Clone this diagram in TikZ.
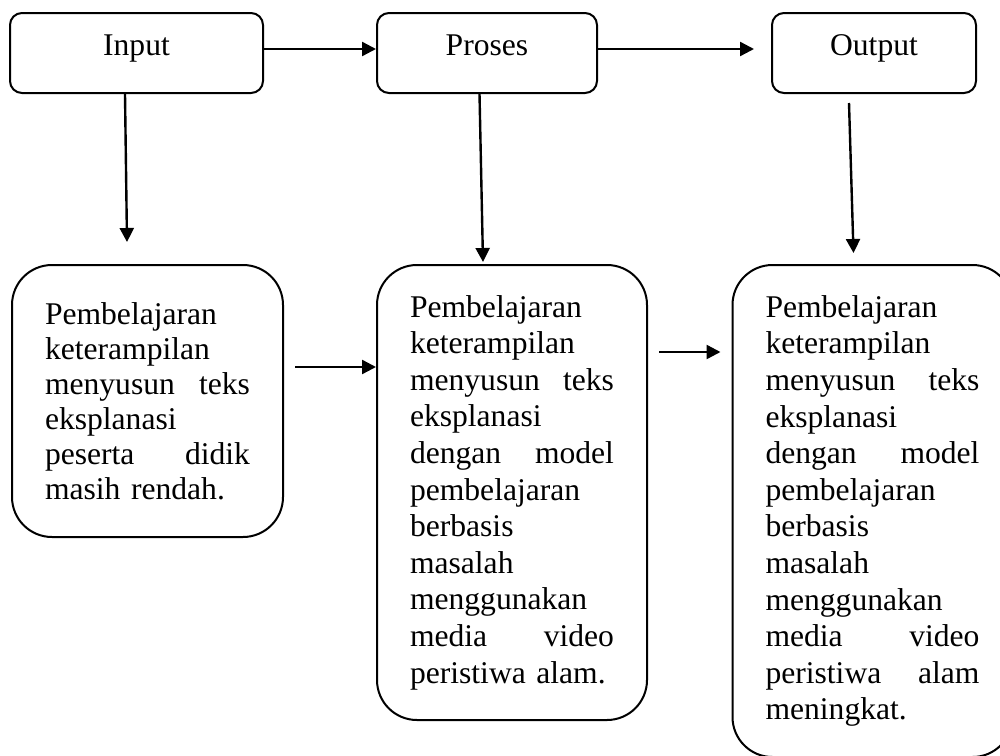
\documentclass[tikz,border=0pt]{standalone}
\usepackage{fontspec}
\setmainfont{Liberation Serif}
\usetikzlibrary{arrows.meta}
\newcommand\jgap{\hskip 0pt plus 1filll}

\begin{document}
\begin{tikzpicture}[x=0.5pt,y={(0,-0.5pt)},
  every node/.style={font=\fontsize{15.8pt}{18.3pt}\selectfont},
  head/.style ={rectangle,draw=black,line width=1pt,rounded corners=6pt,
                minimum height=40pt,text height=12pt,text depth=10pt,inner sep=0pt},
  descr/.style={rectangle,draw=black,line width=1pt,rounded corners=20pt,
                align=left,inner xsep=16.5pt,inner ysep=0pt},
  arr/.style  ={-{Triangle[length=7pt,width=7pt]},line width=1.2pt,black},
]
\useasboundingbox (0,0) rectangle (1000,755);

\node[head,minimum width=126.5pt] at (136.5,53) (inp)  {Input};
\node[head,minimum width=110pt]   at (487,53)   (pro)  {Proses};
\node[head,minimum width=102pt]   at (874,53)   (outp) {Output};

\node[descr,text width=102.5pt,minimum height=136pt,
      font=\fontsize{15.8pt}{17.5pt}\selectfont] at (147.5,401) (awal)
  {Pembelajaran\\ keterampilan\\ menyusun\jgap teks\\ eksplanasi\\
   peserta\jgap didik\\ masih rendah.};
\node[descr,text width=102pt,minimum height=227.5pt] at (512,492.5) (tindak)
  {Pembelajaran\\ keterampilan\\ menyusun\jgap teks\\ eksplanasi\\
   dengan\jgap model\\ pembelajaran\\ berbasis\\ masalah\\ menggunakan\\
   media\jgap video\\ peristiwa alam.};
\node[descr,text width=107pt,minimum height=246pt] at (872.5,511) (hasil)
  {Pembelajaran\\ keterampilan\\ menyusun\jgap teks\\ eksplanasi\\
   dengan\jgap model\\ pembelajaran\\ berbasis\\ masalah\\ menggunakan\\
   media\jgap video\\ peristiwa\jgap alam\\ meningkat.};

\draw[arr] ([yshift=2pt]inp.east) -- ([yshift=2pt]pro.west);
\draw[arr] ([yshift=2pt]pro.east) -- ([xshift=-8.5pt,yshift=2pt]outp.west);

\draw[arr] ([xshift=-5.75pt]inp.south) -- ([xshift=-10.25pt,yshift=11pt]awal.north);
\draw[arr] ([xshift=-3.75pt]pro.south) -- ([xshift=-14.5pt,yshift=1pt]tindak.north);
\draw[arr] ([xshift=-12.5pt,yshift=-4.5pt]outp.south)
  -- ([xshift=-9.5pt,yshift=5.5pt]hasil.north);

\draw[arr] ([xshift=5.5pt,yshift=17pt]awal.east) -- ([yshift=62.75pt]tindak.west);
\draw[arr] ([xshift=5.5pt,yshift=70.25pt]tindak.east)
  -- ([xshift=-5.5pt,yshift=79.5pt]hasil.west);
\end{tikzpicture}
\end{document}
